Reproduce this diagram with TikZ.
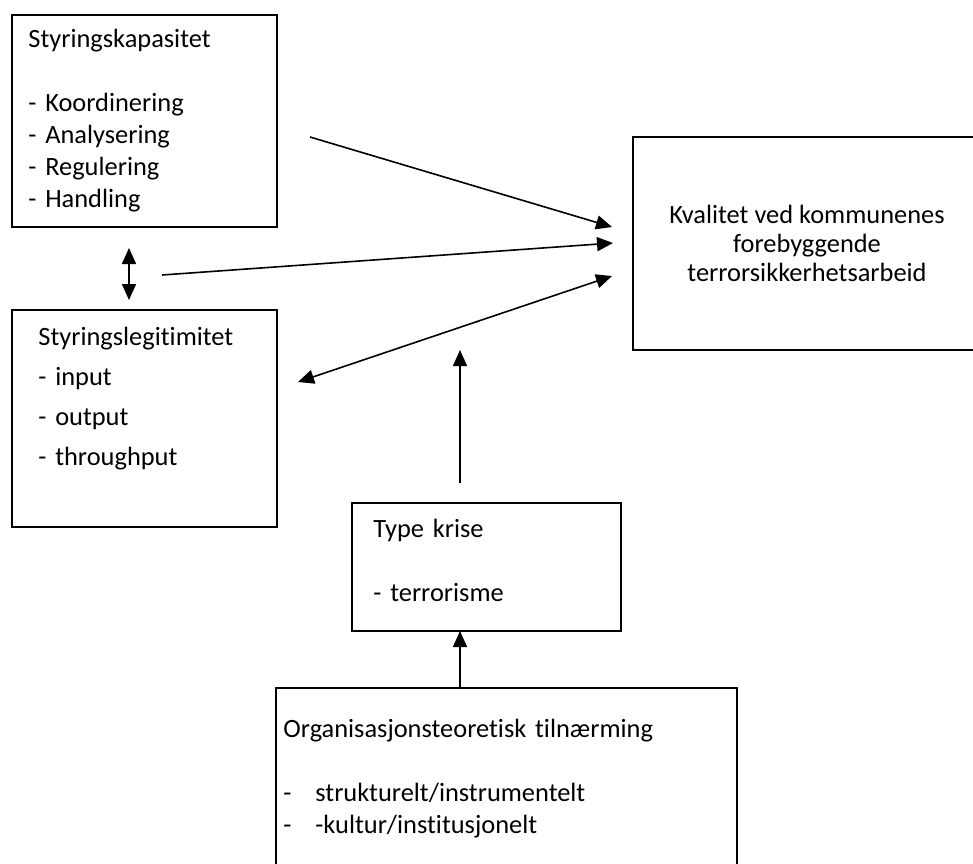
\documentclass[tikz,border=0pt]{standalone}
\usepackage{fontspec}
\setmainfont{Carlito}[Ligatures=NoCommon]
\usetikzlibrary{arrows.meta}

\begin{document}
\begin{tikzpicture}[x=0.5pt,y=-0.5pt]
  \useasboundingbox (0,0) rectangle (973,863);
  \tikzset{BoxStyle/.style = {rectangle,
                              draw,
                              line width     = 1pt,
                              inner sep      = 0pt,
                              outer sep      = 0pt}}

  \tikzset{TextStyle/.style = {anchor        = base west,
                               align         = left,
                               inner sep     = 0pt,
                               text width    = 220pt,
                               font          = \fontsize{13.2}{16}\selectfont}}

  \tikzset{EdgeStyle/.style   = {line width = 0.8pt,
                                 -{Triangle[length=8pt,width=7pt]}}}
  \tikzset{BiEdgeStyle/.style = {line width = 0.8pt,
                                 {Triangle[length=8pt,width=7pt]}-{Triangle[length=8pt,width=7pt]}}}

     % boxes
     \node[BoxStyle, minimum width=132.5pt, minimum height=106pt] (Kap) at (144.5,121) {};
     \node[BoxStyle, minimum width=132.5pt, minimum height=108.5pt] (Leg) at (144.5,418.5) {};
     \node[BoxStyle, minimum width=174pt, minimum height=106.5pt, align=center,
           font=\fontsize{13.2}{14.5}\selectfont] (Kval) at (807,243.5)
           {Kvalitet ved kommunenes\\forebyggende\\terrorsikkerhetsarbeid};
     \node[BoxStyle, minimum width=134.5pt, minimum height=64pt] (Krise) at (486.5,567) {};
     \node[BoxStyle, minimum width=230.5pt, minimum height=106pt] (Tiln) at (506.5,794) {};

     % box texts
     \node[TextStyle] (KapTxt) at (28,47)
          {Styringskapasitet\\[16pt]
           - Koordinering\\
           - Analysering\\
           - Regulering\\
           - Handling};
     \node[TextStyle, font=\fontsize{13.2}{20}\selectfont] (LegTxt) at (38,345)
          {Styringslegitimitet\\
           - input\\
           - output\\
           - throughput};
     \node[TextStyle] (KriseTxt) at (373,537)
          {Type krise\\[16pt]
           - terrorisme};
     \node[TextStyle] (TilnTxt) at (283,737)
          {Organisasjonsteoretisk tiln\ae rming\\[16pt]
           \makebox[16pt][l]{-}strukturelt/instrumentelt\\
           \makebox[16pt][l]{-}-kultur/institusjonelt};

     % free ends
     \coordinate (KapFrom)   at (310,137);
     \coordinate (KapTo)     at (612,227);
     \coordinate (MidFrom)   at (162,275);
     \coordinate (MidTo)     at (613,243);
     \coordinate (LegFrom)   at (298,382);
     \coordinate (LegTo)     at (612,276);
     \coordinate (KriseFrom) at (460,483);
     \coordinate (KriseTo)   at (460,350);
     \coordinate (BiTop)     at (129,248);
     \coordinate (BiBot)     at (129,300);

     \draw[EdgeStyle](KapFrom) -- (KapTo);
     \draw[EdgeStyle](MidFrom) -- (MidTo);
     \draw[BiEdgeStyle](LegFrom) -- (LegTo);
     \draw[EdgeStyle](KriseFrom) -- (KriseTo);
     \draw[BiEdgeStyle](BiTop) -- (BiBot);
     \draw[EdgeStyle](Tiln.north -| KriseFrom) -- (Krise.south -| KriseFrom);

\end{tikzpicture}
\end{document}
